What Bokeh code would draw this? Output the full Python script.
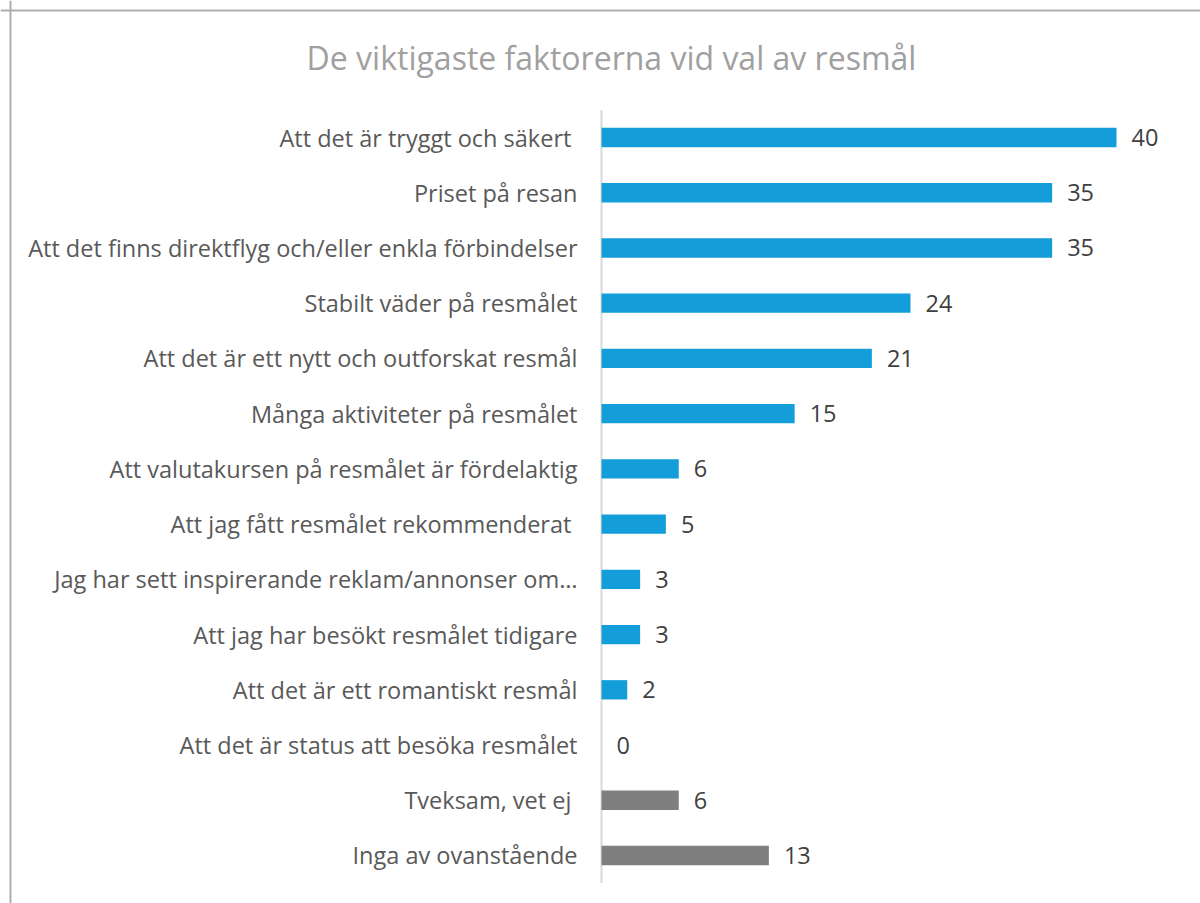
from bokeh.plotting import figure
from bokeh.models import Range1d, ColumnDataSource, Span, Label
from bokeh.core.properties import value
from bokeh.embed import file_html
from bokeh.resources import INLINE

title_text = "De viktigaste faktorerna vid val av resmål"
categories = [
    "Att det är tryggt och säkert ",
    "Priset på resan",
    "Att det finns direktflyg och/eller enkla förbindelser",
    "Stabilt väder på resmålet",
    "Att det är ett nytt och outforskat resmål",
    "Många aktiviteter på resmålet",
    "Att valutakursen på resmålet är fördelaktig",
    "Att jag fått resmålet rekommenderat ",
    "Jag har sett inspirerande reklam/annonser om…",
    "Att jag har besökt resmålet tidigare",
    "Att det är ett romantiskt resmål",
    "Att det är status att besöka resmålet",
    "Tveksam, vet ej ",
    "Inga av ovanstående",
]
values = [40, 35, 35, 24, 21, 15, 6, 5, 3, 3, 2, 0, 6, 13]
groups = ["main"] * 12 + ["other"] * 2
group_colors = {"main": "#149ED9", "other": "#7F7F7F"}

# layout constants (canvas pixels)
W, H = 1200, 903
X0 = 601.0          # canvas x of value 0
PXU = 12.875        # pixels per unit
ROW0 = 137.0        # canvas y of first row centre
STEP = 55.23        # pixels per row
N = len(categories)

ypos = [N - 1 - i for i in range(N)]
src = ColumnDataSource(dict(
    y=ypos, v=values, cat=categories,
    color=[group_colors[g] for g in groups],
    lbl=[str(v) for v in values],
    zero=[0] * N,
))

p = figure(width=W, height=H, output_backend="svg", toolbar_location=None,
           x_range=Range1d(-X0 / PXU, (W - X0) / PXU),
           y_range=Range1d((N - 1) - (H - ROW0) / STEP, (N - 1) + ROW0 / STEP),
           x_axis_location=None, y_axis_location=None,
           min_border=0, tools="")
p.grid.visible = False
p.outline_line_color = None
p.background_fill_color = "white"
p.border_fill_color = "white"

# chart border (top/left visible)
p.add_layout(Span(location=(10 - X0) / PXU, dimension="height", line_color="#ADADAD", line_width=2))
p.add_layout(Span(location=(N - 1) + (ROW0 - 10) / STEP, dimension="width", line_color="#ADADAD", line_width=2))

# vertical axis line
p.segment(x0=0, y0=-0.5, x1=0, y1=N - 0.5, line_color="#D9D9D9", line_width=2)

p.hbar(y="y", left=0, right="v", height=0.35, fill_color="color", line_color=None, source=src)

p.text(x="zero", y="y", text="cat", x_offset=-24, text_align="right", text_baseline="middle",
       text_font=value("Open Sans"), text_font_size="23.5px", text_color="#595959", source=src)
p.text(x="v", y="y", text="lbl", x_offset=15, text_align="left", text_baseline="middle",
       text_font=value("Open Sans"), text_font_size="23.5px", text_color="#404040", source=src)

p.add_layout(Label(x=(611 - X0) / PXU, y=(N - 1) + (ROW0 - 57) / STEP, text=title_text,
                   text_align="center", text_baseline="middle",
                   text_font="Open Sans", text_font_size="32px", text_color="#A0A0A0"))

open("out.html", "w").write(file_html(p, INLINE))
